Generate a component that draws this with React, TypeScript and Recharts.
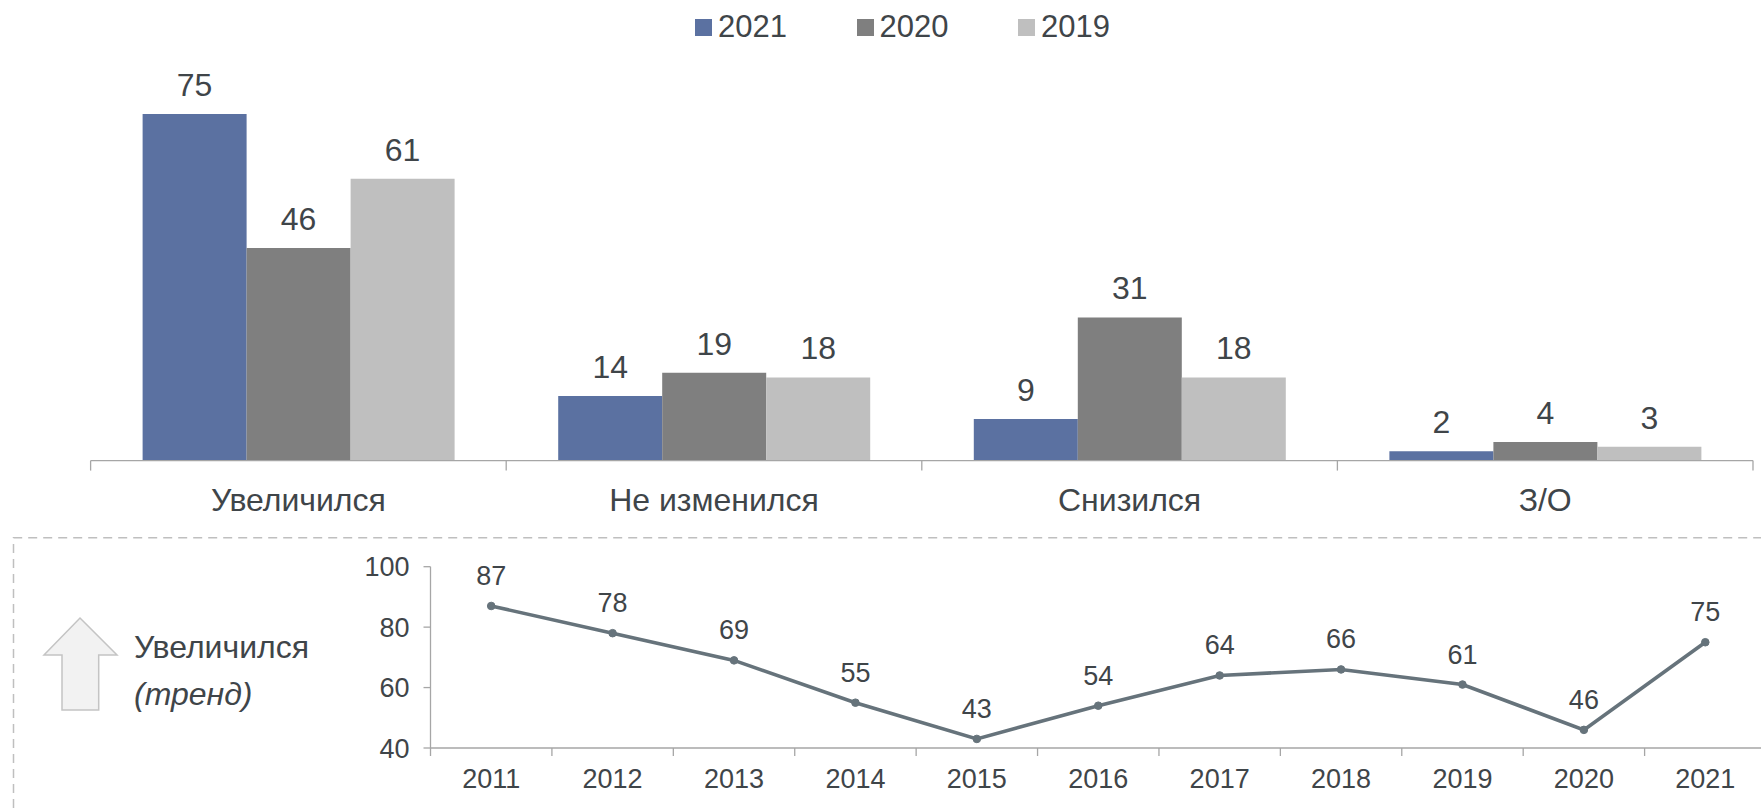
import { Bar, BarChart, LabelList, Legend, Line, LineChart, XAxis, YAxis } from "recharts";

const FONT = '"Liberation Sans", Arial, sans-serif';
const TEXT_COLOR = "#3f4549";
const AXIS_COLOR = "#a6a6a6";

const categories = ["Увеличился", "Не изменился", "Снизился", "З/О"];
const values2021 = [75, 14, 9, 2];
const values2020 = [46, 19, 31, 4];
const values2019 = [61, 18, 18, 3];

const years = ["2011", "2012", "2013", "2014", "2015", "2016", "2017", "2018", "2019", "2020", "2021"];
const trend = [87, 78, 69, 55, 43, 54, 64, 66, 61, 46, 75];
const trendTicks = [40, 60, 80, 100];

const barData = categories.map((name, i) => ({
  name,
  y2021: values2021[i],
  y2020: values2020[i],
  y2019: values2019[i],
}));
const trendData = years.map((year, i) => ({ year, value: trend[i] }));

const BAR_BAND = 415.6;
const LINE_BAND = 121.4;

function BandTick({ x, y, index, payload, band, count, fontSize, tickLen, dy }: any) {
  const left = x - band / 2;
  return (
    <g>
      <line x1={left} x2={left} y1={y - 8} y2={y - 8 + tickLen} stroke={AXIS_COLOR} strokeWidth={1.3} />
      {index === count - 1 ? (
        <line x1={left + band} x2={left + band} y1={y - 8} y2={y - 8 + tickLen} stroke={AXIS_COLOR} strokeWidth={1.3} />
      ) : null}
      <text x={x} y={y + dy} textAnchor="middle" fontSize={fontSize} fontFamily={FONT} fill={TEXT_COLOR}>
        {payload.value}
      </text>
    </g>
  );
}

function YearLegend({ payload }: any) {
  return (
    <div style={{ display: "flex", fontFamily: FONT, fontSize: 31, color: TEXT_COLOR, lineHeight: "34px" }}>
      {payload.map((p: any) => (
        <div key={p.value} style={{ display: "flex", alignItems: "center", width: 161.5 }}>
          <span style={{ width: 17, height: 17, background: p.color, marginRight: 6 }} />
          {p.value}
        </div>
      ))}
    </div>
  );
}

function Arrow() {
  return (
    <svg width={1761} height={808} style={{ position: "absolute", left: 0, top: 0 }}>
      <path d="M13.5 808 V537.7 H1761" fill="none" stroke="#bfbfbf" strokeWidth={1.5} strokeDasharray="9 6" />
      <polygon
        points="80,618 117,655 98.7,655 98.7,710 62,710 62,655 44,655"
        fill="#f2f2f2"
        stroke="#c4c4c4"
        strokeWidth={1.5}
      />
      <text x={134} y={658} fontSize={32} fontFamily={FONT} fill={TEXT_COLOR}>
        Увеличился
      </text>
      <text x={134} y={705} fontSize={32} fontStyle="italic" fontFamily={FONT} fill={TEXT_COLOR}>
        (тренд)
      </text>
    </svg>
  );
}

export default function App() {
  const barLabel = { fontSize: 32, fontFamily: FONT, fill: TEXT_COLOR };
  return (
    <div style={{ position: "fixed", left: 0, top: 0, width: 1761, height: 808, overflow: "hidden", background: "#fff" }}>
      <Arrow />
      <div style={{ position: "absolute", left: 0, top: 0 }}>
        <BarChart
          width={1761}
          height={530.6}
          data={barData}
          margin={{ top: 57, right: 8, left: 90.6, bottom: 0 }}
          barCategoryGap={52}
          barGap={0}
        >
          <XAxis
            dataKey="name"
            stroke={AXIS_COLOR}
            strokeWidth={1.3}
            tickLine={false}
            interval={0}
            height={70}
            tick={<BandTick band={BAR_BAND} count={categories.length} fontSize={32} tickLen={10} dy={42} />}
          />
          <YAxis hide domain={[0, 80]} />
          <Legend
            verticalAlign="top"
            align="left"
            itemSorter={null}
            content={<YearLegend />}
            wrapperStyle={{ left: 695, top: 10, width: 520 }}
          />
          <Bar dataKey="y2021" name="2021" fill="#5b71a1" isAnimationActive={false}>
            <LabelList dataKey="y2021" position="top" offset={18} style={barLabel} />
          </Bar>
          <Bar dataKey="y2020" name="2020" fill="#7f7f7f" isAnimationActive={false}>
            <LabelList dataKey="y2020" position="top" offset={18} style={barLabel} />
          </Bar>
          <Bar dataKey="y2019" name="2019" fill="#bfbfbf" isAnimationActive={false}>
            <LabelList dataKey="y2019" position="top" offset={18} style={barLabel} />
          </Bar>
        </BarChart>
      </div>
      <div style={{ position: "absolute", left: 0, top: 540 }}>
        <LineChart width={1790} height={268} data={trendData} margin={{ top: 26.7, right: 24, left: 370.5, bottom: 0 }}>
          <XAxis
            dataKey="year"
            scale="band"
            stroke={AXIS_COLOR}
            strokeWidth={1.3}
            tickLine={false}
            interval={0}
            height={60}
            tick={<BandTick band={LINE_BAND} count={years.length} fontSize={27} tickLen={8} dy={32} />}
          />
          <YAxis
            domain={[40, 100]}
            ticks={trendTicks}
            stroke={AXIS_COLOR}
            strokeWidth={1.3}
            tickSize={7}
            tickMargin={14}
            tick={{ fontSize: 27, fontFamily: FONT, fill: TEXT_COLOR }}
            width={60}
          />
          <Line
            dataKey="value"
            stroke="#66737b"
            strokeWidth={3.6}
            dot={{ r: 3.8, fill: "#66737b", stroke: "#66737b", strokeWidth: 1 }}
            isAnimationActive={false}
          >
            <LabelList dataKey="value" position="top" offset={21} style={{ fontSize: 27, fontFamily: FONT, fill: TEXT_COLOR }} />
          </Line>
        </LineChart>
      </div>
    </div>
  );
}
